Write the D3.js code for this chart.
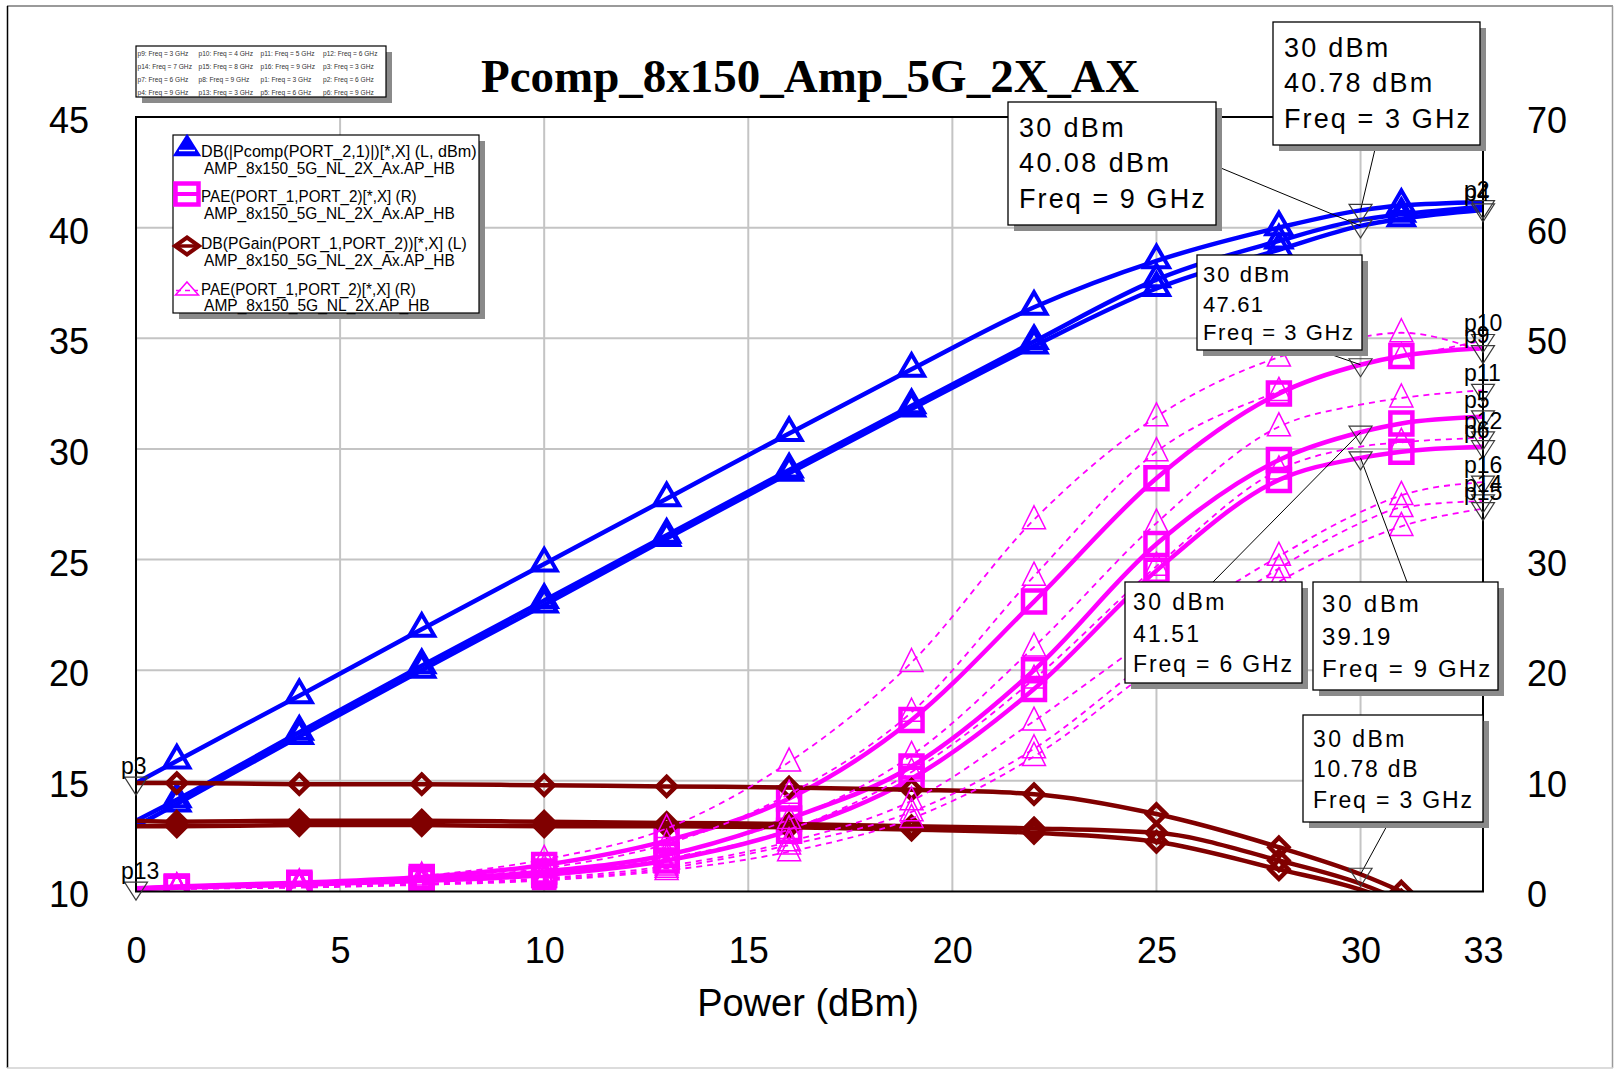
<!DOCTYPE html>
<html>
<head>
<meta charset="utf-8">
<script src="https://cdn.jsdelivr.net/npm/d3@7"></script>
<style>
  body { margin: 0; background: #fff; }
  svg { display: block; }
</style>
</head>
<body>
<svg id="chart" width="1614" height="1069" font-family='"Liberation Sans", Arial, sans-serif'></svg>
<script>
// ---- swept input power (dBm) ----
const pin = [0, 1, 4, 7, 10, 13, 16, 19, 22, 25, 28, 30, 31, 33];

// ---- output power, DB(|Pcomp(PORT_2,1)|) in dBm (left axis) ----
const pcomp3GHz = [14.9, 15.9, 18.85, 21.85, 24.8, 27.75, 30.7, 33.6, 36.4, 38.5, 40.0, 40.78, 41.0, 41.15];
const pcomp6GHz = [13.2, 14.15, 17.2, 20.2, 23.15, 26.1, 29.05, 31.95, 34.85, 37.65, 39.4, 40.35, 40.6, 40.95];
const pcomp9GHz = [12.95, 13.95, 17.0, 20.0, 22.95, 25.95, 28.9, 31.8, 34.65, 37.25, 39.0, 40.08, 40.4, 40.8];

// ---- power gain, DB(PGain(PORT_1,PORT_2)) in dB (left axis) ----
const gain3GHz = [14.9, 14.9, 14.85, 14.85, 14.8, 14.75, 14.7, 14.6, 14.4, 13.5, 12.0, 10.78, 10.0, 8.15];
const gain6GHz = [13.2, 13.15, 13.2, 13.2, 13.15, 13.1, 13.05, 12.95, 12.85, 12.65, 11.4, 10.35, 9.6, 7.95];
const gain9GHz = [12.95, 12.95, 13.0, 13.0, 12.95, 12.95, 12.9, 12.8, 12.65, 12.25, 11.0, 10.08, 9.4, 7.8];

// ---- PAE (%) of AMP_8x150_5G_NL_2X_Ax (right axis) ----
const pae3GHz = [0.3, 0.45, 0.8, 1.3, 2.4, 4.6, 8.4, 15.5, 26.2, 37.35, 45.0, 47.61, 48.4, 49.1];
const pae6GHz = [0.25, 0.4, 0.7, 1.1, 1.8, 3.3, 6.6, 11.3, 20.0, 31.4, 39.0, 41.51, 42.3, 42.9];
const pae9GHz = [0.2, 0.35, 0.6, 0.95, 1.5, 2.8, 5.5, 10.2, 18.3, 29.0, 37.2, 39.19, 39.75, 40.2];

// ---- PAE (%) of AMP_8x150_5G_NL_2X, 3..9 GHz (right axis) ----
const paeNL3GHz = [0.3, 0.45, 0.8, 1.4, 2.9, 5.7, 11.7, 20.7, 33.6, 42.9, 48.3, 50.1, 50.5, 48.8];
const paeNL4GHz = [0.3, 0.4, 0.65, 1.15, 2.1, 4.3, 8.8, 16.2, 28.5, 39.75, 45.2, 47.6, 48.3, 49.8];
const paeNL5GHz = [0.25, 0.35, 0.55, 0.95, 1.7, 3.4, 6.5, 12.3, 22.1, 33.3, 42.0, 44.0, 44.6, 45.3];
const paeNL6GHz = [0.25, 0.3, 0.5, 0.85, 1.5, 3.0, 5.6, 10.8, 19.2, 29.4, 38.1, 40.2, 40.6, 41.0];
const paeNL7GHz = [0.2, 0.25, 0.4, 0.65, 1.1, 2.1, 4.2, 7.2, 12.9, 21.4, 29.2, 33.3, 34.7, 35.3];
const paeNL8GHz = [0.2, 0.25, 0.35, 0.6, 1.0, 1.9, 3.6, 6.6, 12.2, 20.4, 28.0, 31.6, 33.0, 34.6];
const paeNL9GHz = [0.2, 0.25, 0.4, 0.7, 1.2, 2.3, 4.5, 8.2, 15.4, 23.3, 30.3, 34.3, 35.8, 37.0];

// ---- axes ----
const xTicks = [0, 5, 10, 15, 20, 25, 30, 33];
const yLeftTicks = [10, 15, 20, 25, 30, 35, 40, 45];
const yRightTicks = [0, 10, 20, 30, 40, 50, 60, 70];

const chartTitle = "Pcomp_8x150_Amp_5G_2X_AX";
const xTitle = "Power (dBm)";

// ---- legend ----
const legendEntries = [
  { kind: "pcomp", l1: "DB(|Pcomp(PORT_2,1)|)[*,X] (L, dBm)", l2: "AMP_8x150_5G_NL_2X_Ax.AP_HB" },
  { kind: "pae",   l1: "PAE(PORT_1,PORT_2)[*,X] (R)",         l2: "AMP_8x150_5G_NL_2X_Ax.AP_HB" },
  { kind: "gain",  l1: "DB(PGain(PORT_1,PORT_2))[*,X] (L)",   l2: "AMP_8x150_5G_NL_2X_Ax.AP_HB" },
  { kind: "paeNL", l1: "PAE(PORT_1,PORT_2)[*,X] (R)",         l2: "AMP_8x150_5G_NL_2X.AP_HB" }
];
const markerTable = [
  ["p9: Freq = 3 GHz", "p10: Freq = 4 GHz", "p11: Freq = 5 GHz", "p12: Freq = 6 GHz"],
  ["p14: Freq = 7 GHz", "p15: Freq = 8 GHz", "p16: Freq = 9 GHz", "p3: Freq = 3 GHz"],
  ["p7: Freq = 6 GHz", "p8: Freq = 9 GHz", "p1: Freq = 3 GHz", "p2: Freq = 6 GHz"],
  ["p4: Freq = 9 GHz", "p13: Freq = 3 GHz", "p5: Freq = 6 GHz", "p6: Freq = 9 GHz"]
];

// ---- traces ----
const traces = [
  { kind: "pcomp", axis: "L", vals: pcomp3GHz },
  { kind: "pcomp", axis: "L", vals: pcomp6GHz },
  { kind: "pcomp", axis: "L", vals: pcomp9GHz },
  { kind: "pae", axis: "R", vals: pae3GHz },
  { kind: "pae", axis: "R", vals: pae6GHz },
  { kind: "pae", axis: "R", vals: pae9GHz },
  { kind: "gain", axis: "L", vals: gain3GHz },
  { kind: "gain", axis: "L", vals: gain6GHz },
  { kind: "gain", axis: "L", vals: gain9GHz },
  { kind: "paeNL", axis: "R", vals: paeNL3GHz },
  { kind: "paeNL", axis: "R", vals: paeNL4GHz },
  { kind: "paeNL", axis: "R", vals: paeNL5GHz },
  { kind: "paeNL", axis: "R", vals: paeNL6GHz },
  { kind: "paeNL", axis: "R", vals: paeNL7GHz },
  { kind: "paeNL", axis: "R", vals: paeNL8GHz },
  { kind: "paeNL", axis: "R", vals: paeNL9GHz }
];

// named end-point markers: label, trace values, axis, index into pin
const namedMarkers = [
  { name: "p3",  vals: gain3GHz,  axis: "L", i: 0 },
  { name: "p13", vals: pae3GHz,   axis: "R", i: 0 },
  { name: "p2",  vals: pcomp6GHz, axis: "L", i: 13 },
  { name: "p4",  vals: pcomp9GHz, axis: "L", i: 13 },
  { name: "p10", vals: paeNL4GHz, axis: "R", i: 13 },
  { name: "p9",  vals: paeNL3GHz, axis: "R", i: 13 },
  { name: "p11", vals: paeNL5GHz, axis: "R", i: 13 },
  { name: "p5",  vals: pae6GHz,   axis: "R", i: 13 },
  { name: "p12", vals: paeNL6GHz, axis: "R", i: 13 },
  { name: "p6",  vals: pae9GHz,   axis: "R", i: 13 },
  { name: "p16", vals: paeNL9GHz, axis: "R", i: 13 },
  { name: "p14", vals: paeNL7GHz, axis: "R", i: 13 },
  { name: "p15", vals: paeNL8GHz, axis: "R", i: 13 }
];

// read-outs at 30 dBm input
const readoutPin = 30;
const readouts = [
  { vals: pcomp3GHz, axis: "L", unit: " dBm", freq: 3 },
  { vals: pcomp9GHz, axis: "L", unit: " dBm", freq: 9 },
  { vals: pae3GHz,   axis: "R", unit: "",     freq: 3 },
  { vals: pae6GHz,   axis: "R", unit: "",     freq: 6 },
  { vals: pae9GHz,   axis: "R", unit: "",     freq: 9 },
  { vals: gain3GHz,  axis: "L", unit: " dB",  freq: 3 }
];
// read-out box placement
const readoutBoxes = [
  { x: 1273, y: 22,  w: 207, h: 123, tx: 1284, base: [56.7, 92.3, 128.3], fs: 27, len: [104.3, 148.3, 186], anchor: [1376, 145] },
  { x: 1008, y: 102, w: 208, h: 123, tx: 1019, base: [136.7, 171.7, 208.3], fs: 27, len: [104.7, 150, 185.7], anchor: [1216, 166] },
  { x: 1197, y: 255, w: 165, h: 95,  tx: 1203, base: [281.7, 311.7, 340], fs: 22, len: [86, 60, 150], anchor: [1318, 350] },
  { x: 1125, y: 582, w: 177, h: 101, tx: 1133, base: [610, 641.7, 671.7], fs: 23, len: [91.3, 66, 159], anchor: [1213, 582] },
  { x: 1313, y: 582, w: 185, h: 108, tx: 1322, base: [611.7, 645, 676.7], fs: 24, len: [96.7, 68.3, 168.3], anchor: [1407, 582] },
  { x: 1303, y: 715, w: 180, h: 107, tx: 1313, base: [746.7, 777.3, 808.3], fs: 23, len: [91.3, 104.7, 159], anchor: [1389, 822] }
];

// ================= drawing =================
const svg = d3.select("#chart");
const plot = { left: 136, right: 1483, top: 117, bottom: 891.5 };
const SANS = '"Liberation Sans", Arial, sans-serif';
const SERIF = '"Liberation Serif", "Times New Roman", serif';

const x = d3.scaleLinear().domain([0, 33]).range([plot.left, plot.right]);
const yL = d3.scaleLinear().domain([10, 45]).range([plot.bottom, plot.top]);
const yR = d3.scaleLinear().domain([0, 70]).range([plot.bottom, plot.top]);
const yOf = a => (a === "L" ? yL : yR);

const style = {
  pcomp: { color: "#0000ff", width: 4.5, dash: null },
  pae:   { color: "#ff00ff", width: 4.5, dash: null },
  gain:  { color: "#800000", width: 4.5, dash: null },
  paeNL: { color: "#ff00ff", width: 1.8, dash: "6,5" }
};
const symbolPath = {
  pcomp: "M0,-15L12.5,6.5L-12.5,6.5Z",
  pae:   "M-11,-11H11V11H-11Z",
  gain:  "M0,-9.5L9.5,0L0,9.5L-9.5,0Z",
  paeNL: "M0,-14L11.5,9L-11.5,9Z"
};
const symbolStroke = { pcomp: 4, pae: 4.5, gain: 4.5, paeNL: 1.5 };

// outer frame
svg.append("rect").attr("width", 1614).attr("height", 1069).attr("fill", "#fff");
svg.append("line").attr("x1", 7).attr("y1", 6).attr("x2", 1613).attr("y2", 6).attr("stroke", "#9a9a9a").attr("stroke-width", 2);
svg.append("line").attr("x1", 7.5).attr("y1", 6).attr("x2", 7.5).attr("y2", 1068).attr("stroke", "#000").attr("stroke-width", 1.5);
svg.append("line").attr("x1", 1612.5).attr("y1", 6).attr("x2", 1612.5).attr("y2", 1068).attr("stroke", "#9a9a9a").attr("stroke-width", 1.5);
svg.append("line").attr("x1", 7).attr("y1", 1068).attr("x2", 1613).attr("y2", 1068).attr("stroke", "#d0d0d0").attr("stroke-width", 1.5);

// grid
const grid = svg.append("g").attr("stroke", "#c4c4c4").attr("stroke-width", 2);
grid.selectAll("line.v").data(xTicks.filter(t => t > 0 && t < 33)).join("line")
  .attr("x1", d => x(d)).attr("x2", d => x(d)).attr("y1", plot.top).attr("y2", plot.bottom);
grid.selectAll("line.h").data(yLeftTicks.filter(t => t > 10 && t < 45)).join("line")
  .attr("y1", d => yL(d)).attr("y2", d => yL(d)).attr("x1", plot.left).attr("x2", plot.right);

// axes (labels only)
function styleAxis(g) {
  g.select(".domain").remove();
  g.attr("font-family", SANS).attr("font-size", 36);
  g.selectAll("text").attr("fill", "#000");
}
svg.append("g").attr("transform", `translate(${plot.left},0)`)
  .call(d3.axisLeft(yL).tickValues(yLeftTicks).tickSize(0).tickPadding(47).tickFormat(d3.format("d")))
  .call(styleAxis).selectAll("text").attr("dy", "0.43em");
svg.append("g").attr("transform", `translate(${plot.right},0)`)
  .call(d3.axisRight(yR).tickValues(yRightTicks).tickSize(0).tickPadding(44).tickFormat(d3.format("d")))
  .call(styleAxis).selectAll("text").attr("dy", "0.43em");
svg.append("g").attr("transform", `translate(0,${plot.bottom})`)
  .call(d3.axisBottom(x).tickValues(xTicks).tickSize(0).tickPadding(46.4).tickFormat(d3.format("d")))
  .call(styleAxis);

// titles
svg.append("text").attr("x", 810).attr("y", 92).attr("text-anchor", "middle")
  .style("font-family", SERIF).attr("font-weight", "bold")
  .attr("font-size", 47).text(chartTitle);
svg.append("text").attr("x", 808).attr("y", 1016).attr("text-anchor", "middle")
  .attr("font-size", 38).text(xTitle);

// traces
svg.append("clipPath").attr("id", "plotClip").append("rect")
  .attr("x", plot.left).attr("y", plot.top).attr("width", plot.right - plot.left).attr("height", plot.bottom - plot.top);
const traceG = svg.append("g").attr("clip-path", "url(#plotClip)");

traces.forEach(t => {
  const y = yOf(t.axis);
  const st = style[t.kind];
  const pts = pin.map((p, i) => [p, t.vals[i]]);
  const line = d3.line().x(d => x(d[0])).y(d => y(d[1])).curve(d3.curveMonotoneX);
  const g = traceG.append("g");
  g.append("path").attr("d", line(pts)).attr("fill", "none")
    .attr("stroke", st.color).attr("stroke-width", st.width)
    .attr("stroke-dasharray", st.dash).attr("stroke-linejoin", "round");
  g.selectAll("path.sym").data(pts.filter(d => (d[0] - 1) % 3 === 0)).join("path")
    .attr("class", "sym").attr("d", symbolPath[t.kind])
    .attr("transform", d => `translate(${x(d[0])},${y(d[1])})`)
    .attr("fill", "none").attr("stroke", st.color).attr("stroke-width", symbolStroke[t.kind])
    .attr("stroke-linejoin", "miter");
});

// plot frame
svg.append("rect").attr("x", plot.left).attr("y", plot.top)
  .attr("width", plot.right - plot.left).attr("height", plot.bottom - plot.top)
  .attr("fill", "none").attr("stroke", "#000").attr("stroke-width", 2);

// marker glyph (hollow inverted triangle)
const markerGlyph = "M-11.5,-6L11.5,-6L0,12Z";
function drawMarker(px, py) {
  svg.append("path").attr("d", markerGlyph).attr("transform", `translate(${px},${py})`)
    .attr("fill", "none").attr("stroke", "#3a3a3a").attr("stroke-width", 1.2);
}

// named markers
namedMarkers.forEach(m => {
  const px = x(pin[m.i]), py = yOf(m.axis)(m.vals[m.i]);
  drawMarker(px, py);
  svg.append("text").attr("x", px - (m.i === 0 ? 15 : 19)).attr("y", py - 9).attr("font-size", 23).text(m.name);
});

// read-outs
const fmt = d3.format(".2f");
const iRead = pin.indexOf(readoutPin);
readouts.forEach((r, k) => {
  const b = readoutBoxes[k];
  const px = x(readoutPin), py = yOf(r.axis)(r.vals[iRead]);
  svg.append("line").attr("x1", b.anchor[0]).attr("y1", b.anchor[1]).attr("x2", px).attr("y2", py)
    .attr("stroke", "#000").attr("stroke-width", 1);
  drawMarker(px, py);
});
readouts.forEach((r, k) => {
  const b = readoutBoxes[k];
  const lines = [`${readoutPin} dBm`, fmt(r.vals[iRead]) + r.unit, `Freq = ${r.freq} GHz`];
  svg.append("rect").attr("x", b.x + 6).attr("y", b.y + 6).attr("width", b.w).attr("height", b.h).attr("fill", "#8a8a8a");
  svg.append("rect").attr("x", b.x).attr("y", b.y).attr("width", b.w).attr("height", b.h)
    .attr("fill", "#fff").attr("stroke", "#000").attr("stroke-width", 1.3);
  lines.forEach((s, j) => {
    svg.append("text").attr("x", b.tx).attr("y", b.base[j]).attr("font-size", b.fs)
      .attr("textLength", b.len[j]).attr("lengthAdjust", "spacing").text(s);
  });
});

// marker name table (top left)
const mt = svg.append("g");
mt.append("rect").attr("x", 142).attr("y", 52).attr("width", 250).attr("height", 51).attr("fill", "#8a8a8a");
mt.append("rect").attr("x", 136).attr("y", 46).attr("width", 250).attr("height", 51)
  .attr("fill", "#fff").attr("stroke", "#000").attr("stroke-width", 1.2);
const colX = [137.5, 198.5, 260.5, 323];
const rowY = [55.5, 68.5, 81.5, 94.5];
markerTable.forEach((row, r) => row.forEach((s, c) => {
  mt.append("text").attr("x", colX[c]).attr("y", rowY[r]).attr("font-size", 6.6)
    .attr("fill", "#333").text(s);
}));

// legend
const lg = svg.append("g");
lg.append("rect").attr("x", 179).attr("y", 141).attr("width", 306).attr("height", 178).attr("fill", "#8a8a8a");
lg.append("rect").attr("x", 173).attr("y", 135).attr("width", 306).attr("height", 178)
  .attr("fill", "#fff").attr("stroke", "#000").attr("stroke-width", 1.2);
const legRows = [
  { b1: 156.5, b2: 173.5, cy: 146, len1: 275.7, len2: 250.7 },
  { b1: 201.5, b2: 219,   cy: 194, len1: 215.7, len2: 250.7 },
  { b1: 249,   b2: 266,   cy: 246, len1: 265.7, len2: 250.7 },
  { b1: 295,   b2: 310.5, cy: 289, len1: 214.7, len2: 225.7 }
];
legendEntries.forEach((e, k) => {
  const L = legRows[k], st = style[e.kind], cx = 187;
  if (e.kind === "pcomp") {
    lg.append("path").attr("d", `M${cx},${L.cy - 10}L${cx + 12},${L.cy + 9}L${cx - 12},${L.cy + 9}Z`)
      .attr("fill", st.color).attr("stroke", st.color).attr("stroke-width", 2.5);
    lg.append("line").attr("x1", cx - 8).attr("x2", cx + 8).attr("y1", L.cy + 4.5).attr("y2", L.cy + 4.5)
      .attr("stroke", "#fff").attr("stroke-width", 1.5);
  } else if (e.kind === "pae") {
    lg.append("rect").attr("x", cx - 11.5).attr("y", L.cy - 10.5).attr("width", 23).attr("height", 21)
      .attr("fill", "#fff").attr("stroke", st.color).attr("stroke-width", 4.5);
    lg.append("line").attr("x1", cx - 11.5).attr("x2", cx + 11.5).attr("y1", L.cy).attr("y2", L.cy)
      .attr("stroke", st.color).attr("stroke-width", 4);
  } else if (e.kind === "gain") {
    lg.append("path").attr("d", `M${cx},${L.cy - 8.5}L${cx + 12},${L.cy}L${cx},${L.cy + 8.5}L${cx - 12},${L.cy}Z`)
      .attr("fill", "#fff").attr("stroke", st.color).attr("stroke-width", 4);
    lg.append("line").attr("x1", cx - 12).attr("x2", cx + 12).attr("y1", L.cy).attr("y2", L.cy)
      .attr("stroke", st.color).attr("stroke-width", 3.5);
  } else {
    lg.append("path").attr("d", `M${cx},${L.cy - 7}L${cx + 11.5},${L.cy + 6}L${cx - 11.5},${L.cy + 6}Z`)
      .attr("fill", "none").attr("stroke", st.color).attr("stroke-width", 1.5);
    lg.append("line").attr("x1", cx - 11).attr("x2", cx + 11).attr("y1", L.cy + 1.5).attr("y2", L.cy + 1.5)
      .attr("stroke", st.color).attr("stroke-width", 1.5).attr("stroke-dasharray", "5,4");
  }
  lg.append("text").attr("x", 201).attr("y", L.b1).attr("font-size", 17)
    .attr("textLength", L.len1).attr("lengthAdjust", "spacingAndGlyphs").text(e.l1);
  lg.append("text").attr("x", 204).attr("y", L.b2).attr("font-size", 17)
    .attr("textLength", L.len2).attr("lengthAdjust", "spacingAndGlyphs").text(e.l2);
});
</script>
</body>
</html>
